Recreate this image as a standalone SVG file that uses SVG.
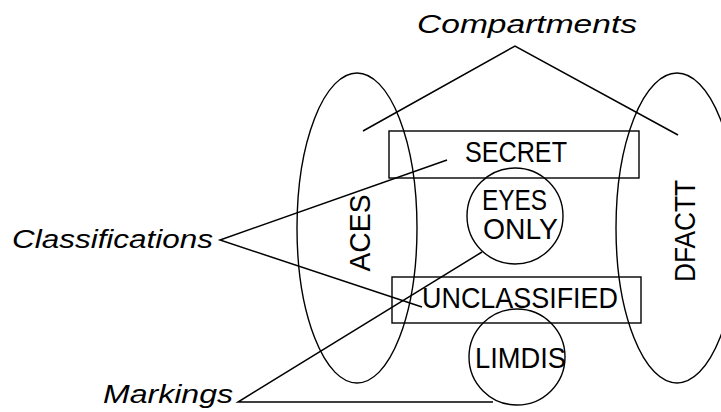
<svg xmlns="http://www.w3.org/2000/svg" width="721" height="412" viewBox="0 0 721 412">
<style>
.sh{fill:none;stroke:#000;stroke-width:1.4}
.ln{fill:none;stroke:#000;stroke-width:1.5}
.t{font-family:"Liberation Sans",Arial,sans-serif;font-size:30px;fill:#000}
.it{font-family:"Liberation Sans",Arial,sans-serif;font-size:25px;font-style:italic;fill:#000}
</style>
<rect width="721" height="412" fill="#fff"/>
<g id="aces">
<ellipse class="sh" cx="357" cy="228" rx="60" ry="155"/>
<text class="t" transform="translate(370,233) rotate(-90)" text-anchor="middle" textLength="77" lengthAdjust="spacingAndGlyphs">ACES</text>
</g>
<g id="dfactt">
<ellipse class="sh" cx="677" cy="228" rx="61" ry="155"/>
<text class="t" transform="translate(695,231) rotate(-90)" text-anchor="middle" textLength="102" lengthAdjust="spacingAndGlyphs">DFACTT</text>
</g>
<g id="secret">
<rect class="sh" x="389" y="131" width="250" height="47"/>
<text class="t" x="465" y="162" textLength="102" lengthAdjust="spacingAndGlyphs">SECRET</text>
</g>
<g id="eyesonly">
<circle class="sh" cx="515" cy="216" r="48"/>
<text class="t" x="482" y="210" textLength="65" lengthAdjust="spacingAndGlyphs">EYES</text>
<text class="t" x="483" y="239" textLength="75" lengthAdjust="spacingAndGlyphs">ONLY</text>
</g>
<g id="unclassified">
<rect class="sh" x="392" y="277" width="249" height="46"/>
<text class="t" x="422" y="308" textLength="196" lengthAdjust="spacingAndGlyphs">UNCLASSIFIED</text>
</g>
<g id="limdis">
<circle class="sh" cx="517" cy="357" r="48"/>
<text class="t" x="475" y="368" textLength="91" lengthAdjust="spacingAndGlyphs">LIMDIS</text>
</g>
<g id="compartments">
<text class="it" x="417" y="33" textLength="220" lengthAdjust="spacingAndGlyphs">Compartments</text>
</g>
<g id="classifications">
<text class="it" x="12" y="248" textLength="201" lengthAdjust="spacingAndGlyphs">Classifications</text>
</g>
<g id="markings">
<text class="it" x="103" y="403" textLength="130" lengthAdjust="spacingAndGlyphs">Markings</text>
</g>
<g id="connectors">
<polyline class="ln" points="363,131 515,46 678,135"/>
<polyline class="ln" points="447,160 220,240 422,307"/>
<polyline class="ln" points="482,252 238,402 493,402"/>
</g>
</svg>
